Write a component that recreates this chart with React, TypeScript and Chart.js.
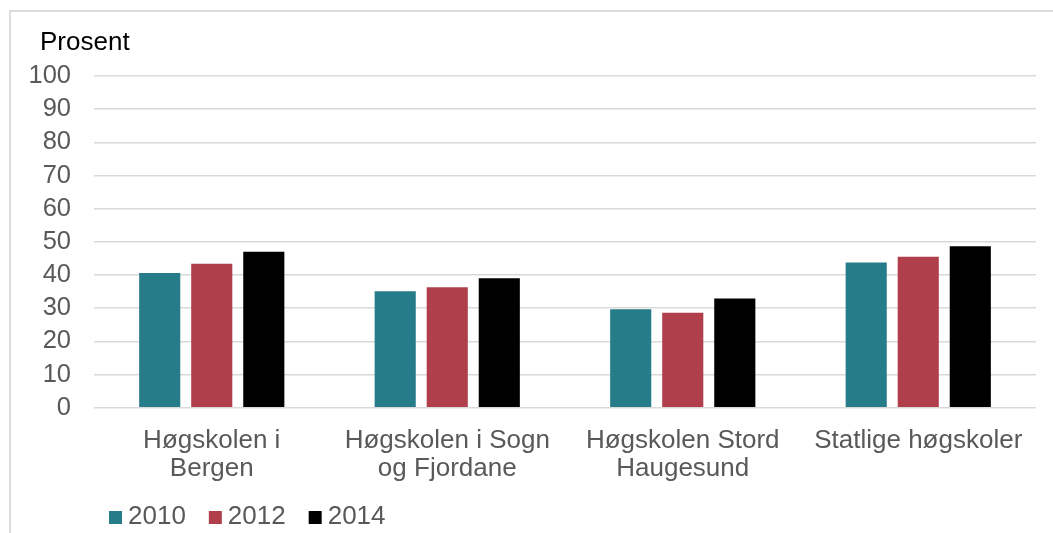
import React, { useEffect, useRef } from "react";
import { Chart, registerables } from "chart.js";

Chart.register(...registerables);

const categories: (string | string[])[] = [
  ["Høgskolen i", "Bergen"],
  ["Høgskolen i Sogn", "og Fjordane"],
  ["Høgskolen Stord", "Haugesund"],
  "Statlige høgskoler",
];
const seriesLabels = ["2010", "2012", "2014"];
const values2010 = [40.6, 35.1, 29.7, 43.8];
const values2012 = [43.4, 36.3, 28.6, 45.5];
const values2014 = [47.0, 39.0, 32.9, 48.7];
const seriesColors = ["#277C8A", "#B03F4B", "#000000"];
const yAxisTitle = "Prosent";
const yMin = 0;
const yMax = 100;
const yStep = 10;

const FONT = "'Liberation Sans', Arial, sans-serif";

const extrasPlugin = {
  id: "extras",
  afterDraw(chart: any) {
    const ctx = chart.ctx;
    const area = chart.chartArea;
    ctx.save();
    // axis title
    ctx.fillStyle = "#000000";
    ctx.font = `26px ${FONT}`;
    ctx.textAlign = "left";
    ctx.textBaseline = "alphabetic";
    ctx.fillText(yAxisTitle, 29, 38);
    // legend
    ctx.font = `26px ${FONT}`;
    let x = area.left + 15;
    const boxTop = 499;
    const baseline = 512;
    chart.data.datasets.forEach((ds: any) => {
      ctx.fillStyle = ds.backgroundColor;
      ctx.fillRect(x, boxTop, 13, 13);
      ctx.fillStyle = "#595959";
      ctx.fillText(ds.label, x + 19, baseline);
      x += 19 + ctx.measureText(ds.label).width + 23;
    });
    ctx.restore();
  },
};

export default function App() {
  const canvasRef = useRef<HTMLCanvasElement | null>(null);

  useEffect(() => {
    if (!canvasRef.current) return;
    const chart = new Chart(canvasRef.current, {
      type: "bar",
      data: {
        labels: categories,
        datasets: [
          { label: seriesLabels[0], data: values2010, backgroundColor: seriesColors[0] },
          { label: seriesLabels[1], data: values2012, backgroundColor: seriesColors[1] },
          { label: seriesLabels[2], data: values2014, backgroundColor: seriesColors[2] },
        ],
      },
      options: {
        responsive: false,
        animation: false,
        devicePixelRatio: 1,
        layout: { padding: { left: 0, right: 17, top: 64, bottom: 40 } },
        datasets: {
          bar: { categoryPercentage: 0.663, barPercentage: 0.79 },
        },
        plugins: {
          legend: { display: false },
          title: { display: false },
          tooltip: { enabled: false },
        },
        scales: {
          x: {
            grid: { display: false, drawTicks: false },
            border: { display: false },
            ticks: {
              color: "#595959",
              font: { family: FONT, size: 26, lineHeight: 1.08 },
              padding: 19.5,
              maxRotation: 0,
              autoSkip: false,
            },
            afterFit: (axis: any) => {
              axis.height = 85.3;
            },
          },
          y: {
            min: yMin,
            max: yMax,
            grid: { color: "#d9d9d9", lineWidth: 1.5, drawTicks: false },
            border: { display: false },
            ticks: {
              stepSize: yStep,
              autoSkip: false,
              color: "#595959",
              font: { family: FONT, size: 25.5, lineHeight: 1 },
              padding: 23,
            },
            afterFit: (axis: any) => {
              axis.width = 83;
            },
          },
        },
      },
      plugins: [extrasPlugin],
    });
    return () => chart.destroy();
  }, []);

  return (
    <div
      style={{
        position: "fixed",
        left: 9,
        top: 10,
        width: 1044,
        height: 523,
        borderTop: "2px solid #dcdcdc",
        borderLeft: "2px solid #dcdcdc",
        background: "#ffffff",
        boxSizing: "border-box",
      }}
    >
      <canvas
        ref={canvasRef}
        width={1042}
        height={521}
        style={{ display: "block", width: 1042, height: 521 }}
      />
    </div>
  );
}
